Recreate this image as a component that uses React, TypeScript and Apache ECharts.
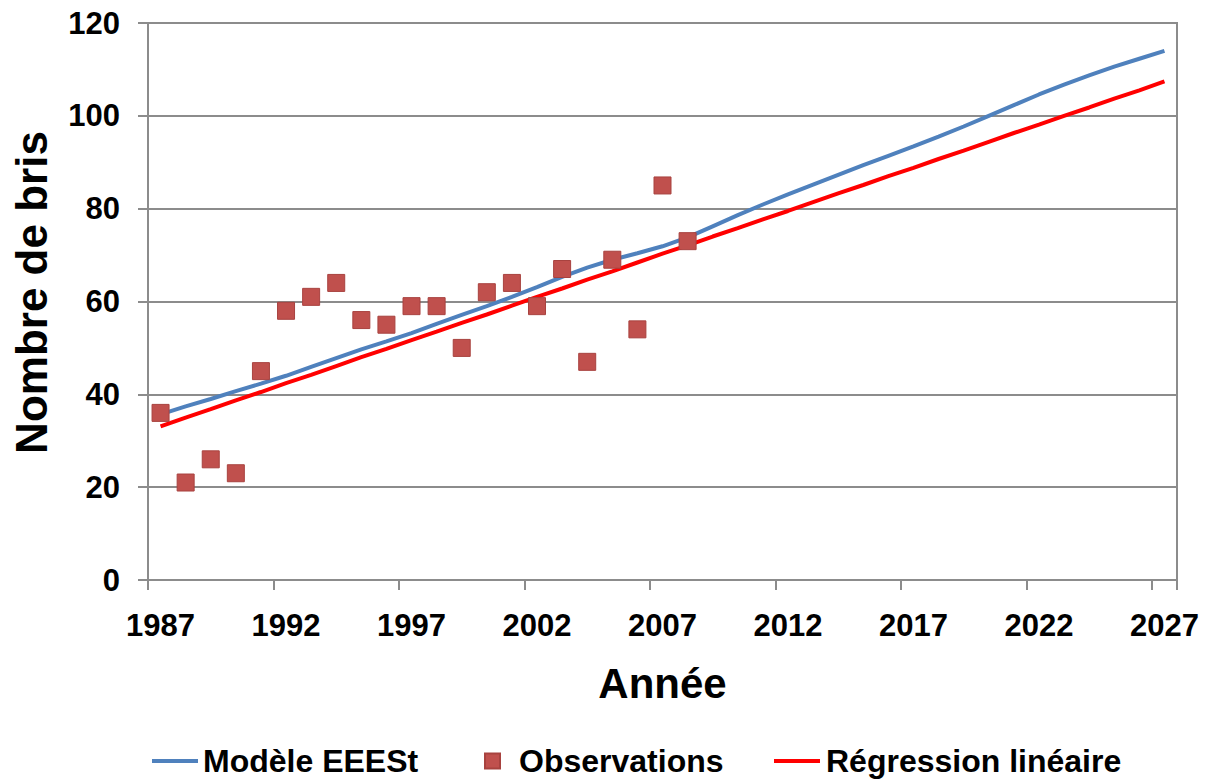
import React, { useEffect, useRef } from "react";
import * as echarts from "echarts";

const years = [
  "1987", "1988", "1989", "1990", "1991", "1992", "1993", "1994", "1995", "1996",
  "1997", "1998", "1999", "2000", "2001", "2002", "2003", "2004", "2005", "2006",
  "2007", "2008", "2009", "2010", "2011", "2012", "2013", "2014", "2015", "2016",
  "2017", "2018", "2019", "2020", "2021", "2022", "2023", "2024", "2025", "2026",
  "2027",
];

const observations = [
  36, 21, 26, 23, 45, 58, 61, 64, 56, 55, 59, 59, 50, 62, 64, 59, 67, 47, 69, 54, 85, 73,
];

const modelEEESt = [
  35.7, 37.4, 39.0, 40.7, 42.3, 44.0, 45.9, 47.8, 49.7, 51.4,
  53.2, 55.2, 57.1, 59.0, 61.0, 63.1, 65.3, 67.3, 69.0, 70.4,
  71.9, 73.8, 76.2, 78.6, 80.9, 83.1, 85.2, 87.3, 89.4, 91.4,
  93.4, 95.5, 97.7, 100.0, 102.3, 104.6, 106.7, 108.7, 110.6, 112.3,
  114.0,
];

const regression = [
  33.1, 35.0, 36.8, 38.7, 40.5, 42.4, 44.2, 46.1, 48.0, 49.8,
  51.7, 53.5, 55.4, 57.2, 59.1, 61.0, 62.8, 64.7, 66.5, 68.4,
  70.3, 72.1, 74.0, 75.8, 77.7, 79.5, 81.4, 83.3, 85.1, 87.0,
  88.8, 90.7, 92.5, 94.4, 96.3, 98.1, 100.0, 101.8, 103.7, 105.5,
  107.4,
];

const seriesNames = ["Modèle EEESt", "Observations", "Régression linéaire"];
const yTicks = { min: 0, max: 120, interval: 20 };

const FONT = "'Liberation Sans', Arial, Helvetica, sans-serif";
const GRID_COLOR = "#8c8c8c";
const LINE_ICON = "path://M0,0H46V4H0Z";

export default function App() {
  const ref = useRef<HTMLDivElement>(null);

  useEffect(() => {
    if (!ref.current) return;
    const chart = echarts.init(ref.current, null, { renderer: "svg" });
    const legendText = {
      fontSize: 32,
      fontWeight: "bold" as const,
      color: "#000",
      fontFamily: FONT,
    };
    const legendBase = {
      top: 745,
      textStyle: legendText,
      padding: 0,
      selectedMode: false,
    };
    chart.setOption({
      animation: false,
      backgroundColor: "#ffffff",
      textStyle: { fontFamily: FONT },
      grid: {
        left: 148,
        right: 35,
        top: 23,
        bottom: 202,
        show: true,
        borderColor: GRID_COLOR,
        borderWidth: 2,
        containLabel: false,
      },
      legend: [
        {
          ...legendBase,
          left: 152,
          itemWidth: 46,
          itemHeight: 4,
          data: [{ name: seriesNames[0], icon: LINE_ICON }],
        },
        {
          ...legendBase,
          left: 484,
          itemWidth: 15,
          itemHeight: 15,
          textStyle: { ...legendText, padding: [0, 0, 0, 14] },
          data: [{ name: seriesNames[1], icon: "rect" }],
        },
        {
          ...legendBase,
          left: 774,
          itemWidth: 48,
          itemHeight: 4,
          data: [{ name: seriesNames[2], icon: LINE_ICON }],
        },
      ],
      xAxis: {
        type: "category",
        data: years,
        boundaryGap: true,
        name: "Année",
        nameLocation: "middle",
        nameGap: 82,
        nameTextStyle: { fontSize: 42, fontWeight: "bold", color: "#000", fontFamily: FONT },
        axisLine: { lineStyle: { color: GRID_COLOR, width: 2 } },
        axisTick: { show: true, interval: 4, length: 10, alignWithLabel: false, lineStyle: { color: GRID_COLOR, width: 2 } },
        axisLabel: { interval: 4, margin: 30, fontSize: 31, fontWeight: "bold", color: "#000", fontFamily: FONT },
        splitLine: { show: false },
      },
      yAxis: {
        type: "value",
        min: yTicks.min,
        max: yTicks.max,
        interval: yTicks.interval,
        name: "Nombre de bris",
        nameLocation: "middle",
        nameGap: 95,
        nameTextStyle: {
          fontSize: 44,
          fontWeight: "bold",
          color: "#000",
          fontFamily: FONT,
          padding: [0, 0, 0, 18],
        },
        axisLine: { show: true, lineStyle: { color: GRID_COLOR, width: 2 } },
        axisTick: { show: true, length: 10, lineStyle: { color: GRID_COLOR, width: 2 } },
        axisLabel: { margin: 28, fontSize: 31, fontWeight: "bold", color: "#000", fontFamily: FONT },
        splitLine: { show: true, lineStyle: { color: GRID_COLOR, width: 2 } },
      },
      series: [
        {
          name: seriesNames[0],
          type: "line",
          data: modelEEESt,
          showSymbol: false,
          symbol: "none",
          lineStyle: { color: "#4F81BD", width: 4 },
          itemStyle: { color: "#4F81BD" },
          z: 2,
        },
        {
          name: seriesNames[2],
          type: "line",
          data: regression,
          showSymbol: false,
          symbol: "none",
          lineStyle: { color: "#FF0000", width: 4 },
          itemStyle: { color: "#FF0000" },
          z: 3,
        },
        {
          name: seriesNames[1],
          type: "scatter",
          data: observations,
          symbol: "rect",
          symbolSize: 17,
          itemStyle: { color: "#C0504D", borderColor: "#A8423F", borderWidth: 1, opacity: 1 },
          z: 4,
        },
      ],
    });
    return () => chart.dispose();
  }, []);

  return (
    <div
      ref={ref}
      style={{ position: "fixed", left: 0, top: 0, width: 1212, height: 782, background: "#fff" }}
    />
  );
}
